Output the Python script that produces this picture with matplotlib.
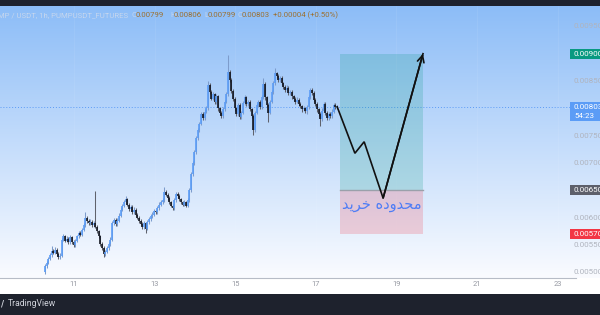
import matplotlib
matplotlib.use('Agg')
import matplotlib.pyplot as plt
import numpy as np
from matplotlib.patches import Rectangle
from matplotlib.transforms import blended_transform_factory as btf

# ---------------- data (prices in units of 0.00001 USDT) ----------------
opens = [500,512,518,525,532,540,536,542,533,528,
         531,560,566,558,562,555,564,556,550,558,
         566,572,569,578,586,600,594,590,593,586,
         590,584,575,566,552,545,533,538,544,552,
         560,590,596,588,595,604,615,622,628,634,
         624,616,620,610,615,606,600,594,589,583,
         590,580,592,598,603,606,612,610,618,624,
         628,632,648,642,636,628,622,618,632,644,
         640,634,628,624,628,622,632,650,680,700,
         720,746,760,772,790,782,794,800,842,830,
         818,826,812,822,800,792,786,798,812,826,
         866,852,832,818,800,790,806,784,792,810,
         820,808,812,798,786,760,792,806,812,802,
         820,845,820,806,792,812,830,846,864,860,
         852,856,846,840,834,838,828,830,822,818,
         812,816,808,804,798,800,796,802,820,834,
         828,816,808,798,790,780,796,808,792,782,
         790,786,794,806,802]
closes = [512,518,525,532,540,536,542,533,528,531,
          560,566,558,562,555,564,556,550,558,566,
          572,569,578,586,600,594,590,593,586,590,
          584,575,566,552,545,533,538,544,552,560,
          590,596,588,595,604,615,622,628,634,624,
          616,620,610,615,606,600,594,589,583,590,
          580,592,598,603,606,612,610,618,624,628,
          632,648,642,636,628,622,618,632,644,640,
          634,628,624,628,622,632,650,680,700,720,
          746,760,772,790,782,794,800,842,830,818,
          826,812,822,800,792,786,798,812,826,866,
          852,832,818,800,790,806,784,792,810,820,
          808,812,798,786,760,792,806,812,802,820,
          845,820,806,792,812,830,846,864,860,852,
          856,846,840,834,838,828,830,822,818,812,
          816,808,804,798,800,796,802,820,834,828,
          816,808,798,790,780,796,808,792,782,790,
          786,794,806,802,803]
highs = [515,521,529,535,548,543,546,545,537,535,
         563,570,569,566,565,568,567,560,562,569,
         576,575,582,590,610,604,597,597,596,594,
         649,587,578,569,555,548,542,548,556,564,
         594,600,599,599,608,619,626,632,640,637,
         627,624,623,619,618,609,603,597,592,594,
         593,596,602,607,610,616,615,622,628,632,
         636,656,651,645,639,631,625,636,648,647,
         643,637,631,632,631,636,654,684,704,724,
         750,764,776,794,793,798,805,850,846,833,
         830,829,826,825,803,795,802,816,830,898,
         870,855,835,821,803,810,809,796,814,824,
         823,816,815,801,789,796,810,816,815,824,
         856,848,823,809,816,834,850,874,867,863,
         860,859,849,843,842,841,834,833,825,821,
         820,819,811,807,804,803,806,824,838,837,
         831,819,811,801,793,800,812,811,795,794,
         793,798,810,809,806]
lows = [498,509,515,522,529,533,533,530,525,525,
        528,557,555,555,552,552,553,547,547,555,
        563,566,566,575,583,591,587,587,583,583,
        581,572,563,549,542,529,530,535,541,549,
        557,587,585,585,592,601,612,619,625,621,
        613,613,607,607,603,597,591,586,580,580,
        572,577,589,595,600,603,607,607,615,621,
        625,629,639,633,625,619,615,615,629,637,
        631,625,621,621,619,619,629,647,677,697,
        717,743,757,769,778,779,791,797,826,815,
        815,808,808,796,788,782,782,795,809,823,
        848,828,814,796,786,786,780,781,789,807,
        805,805,795,783,751,757,789,803,799,799,
        817,816,802,775,789,809,827,843,856,848,
        849,842,836,830,831,824,825,818,814,808,
        809,804,800,794,795,792,790,799,817,824,
        812,804,794,786,768,777,793,788,778,779,
        782,783,791,798,799]
price_unit = 1e-5
first_candle_day = 10.28          # first 1h candle (day of month)

date_ticks = [11, 13, 15, 17, 19, 21, 23]
price_ticks = [0.0095, 0.0085, 0.0075, 0.0070, 0.0060, 0.0055, 0.0050]
last_price = 0.00803
countdown = "54:23"

entry_price = 0.0065
target_price = 0.0090
stop_price = 0.0057
box_start, box_end = 17.60, 19.66

path_days = [17.53, 17.97, 18.20, 18.67, 19.66]
path_prices = [0.00803, 0.00718, 0.00739, 0.00636, 0.00900]

zone_label = "محدوده خرید"
# visual (shaped, left-to-right) form of zone_label using Arabic presentation forms
zone_label_visual = "\uFEAA\uFEF3\uFEAE\uFEA7 \uFEE9\uFEA9\uFEED\uFEAA\uFEA4\uFEE3"

legend_title = "PUMP / USDT, 1h, PUMPUSDT_FUTURES"
ohlc_letters = ["O", "H", "L", "C"]
ohlc_values = ["0.00799", "0.00806", "0.00799", "0.00803"]
change_text = "+0.00004 (+0.50%)"

# ---------------- figure ----------------
W, H = 600, 315
fig = plt.figure(figsize=(6, 3.15), dpi=100)
fig.patch.set_facecolor('white')

ax_top_px, ax_bot_px = 6, 278
ax_rect = [0, (H - ax_bot_px) / H, 1, (ax_bot_px - ax_top_px) / H]

# gradient background
bg = fig.add_axes(ax_rect, zorder=0)
grad = np.linspace(0, 1, 256)[:, None]
top_c = np.array([0.55, 0.74, 0.97])
bot_c = np.array([0.98, 0.985, 1.0])
img = top_c[None, None, :] * (1 - grad[:, :, None]) + bot_c[None, None, :] * grad[:, :, None]
bg.imshow(img, aspect='auto', extent=[0, 1, 0, 1], origin='upper')
bg.set_axis_off()

ax = fig.add_axes(ax_rect, zorder=1)
ax.patch.set_alpha(0)
for s in ax.spines.values():
    s.set_visible(False)
ax.set_xticks([]); ax.set_yticks([])

def px2day(px):
    return 11 + (px - 74) / 40.3

ax.set_xlim(px2day(0), px2day(600))
ax.set_ylim(0.009 - (ax_bot_px - 53.7) / 54.7 * 0.001,
            0.009 + (53.7 - ax_top_px) / 54.7 * 0.001)

# very faint vertical grid
for d in date_ticks:
    ax.axvline(d, color='white', lw=0.6, alpha=0.08, zorder=1)

# candles
o = np.array(opens) * price_unit
c = np.array(closes) * price_unit
hi = np.array(highs) * price_unit
lo = np.array(lows) * price_unit
x = first_candle_day + np.arange(len(o)) / 24.0
up = c >= o
up_col, dn_col = '#5b9cf6', '#131722'
ax.vlines(x, lo, hi, colors=np.where(up, '#7d9ccc', '#5f626c'), lw=0.75, zorder=3)
ax.vlines(x, np.minimum(o, c), np.maximum(o, c), colors=np.where(up, up_col, dn_col),
          lw=1.2, zorder=4)

# last price dotted line
ax.axhline(last_price, color='#5b9cf6', lw=0.7, ls=(0, (1, 2)), zorder=2)

# long position box
ax.add_patch(Rectangle((box_start, entry_price), box_end - box_start, target_price - entry_price,
                       facecolor=(8/255, 153/255, 129/255, 0.2), edgecolor='none', zorder=5))
ax.add_patch(Rectangle((box_start, stop_price), box_end - box_start, entry_price - stop_price,
                       facecolor=(242/255, 54/255, 69/255, 0.2), edgecolor='none', zorder=5))
ax.plot([box_start, box_end], [entry_price, entry_price], color='#9aa0aa', lw=1.0, zorder=6)

# projected path with arrow
ax.plot(path_days, path_prices, color='#111111', lw=1.2, zorder=7, solid_joinstyle='miter')
ax.annotate('', xy=(path_days[-1], path_prices[-1]), xytext=(path_days[-2], path_prices[-2]),
            arrowprops=dict(arrowstyle='->', color='#111111', lw=1.2, mutation_scale=12,
                            shrinkA=0, shrinkB=0), zorder=8)

ax.text((box_start + box_end) / 2, 0.00625, zone_label_visual, color='#4f7df5',
        fontsize=10.5, family=['DejaVu Sans'], ha='center', va='center', zorder=9)

# bottom axis line
ax.plot([0, 0.96], [0, 0], transform=ax.transAxes, color='#b7bcc6', lw=0.8, clip_on=False, zorder=2)

# price scale labels
tb = btf(ax.transAxes, ax.transData)
lab_x = 574 / W
FS = 5.8
for p in price_ticks:
    ax.text(lab_x, p, f"{p:.5f}", transform=tb, fontsize=FS, family='Roboto',
            color='#b0b4be', va='center', ha='left', clip_on=False, zorder=10)

def tag(price, text, color, h_px=10, bottom_extra=0):
    hd = h_px / 54.7 * 0.001
    ax.add_patch(Rectangle((570 / W, price - hd / 2 - bottom_extra), 1 - 570 / W,
                           hd + bottom_extra,
                           transform=tb, facecolor=color, edgecolor='none', zorder=11, clip_on=False))
    ax.text(lab_x, price, text, transform=tb, fontsize=FS, family='Roboto', color='white',
            va='center', ha='left', zorder=12, clip_on=False)

tag(target_price, f"{target_price:.5f}", '#089981')
tag(entry_price, f"{entry_price:.5f}", '#5d606b')
tag(stop_price, f"{stop_price:.5f}", '#f23645')
tag(last_price, f"{last_price:.5f}", '#5b9cf6', h_px=10, bottom_extra=9 / 54.7 * 0.001)
ax.text(lab_x, last_price - 9 / 54.7 * 0.001, countdown, transform=tb, fontsize=FS,
        family='Roboto', color='white', va='center', ha='left', zorder=12, clip_on=False)

# date labels
tdx = btf(ax.transData, ax.transAxes)
for d in date_ticks:
    ax.text(d, -7 / (ax_bot_px - ax_top_px), str(d), transform=tdx, fontsize=5.4,
            family='Roboto', color='#9598a1', ha='center', va='center', clip_on=False)

# top bar and footer
fig.patches.append(Rectangle((0, 1 - ax_top_px / H), 1, ax_top_px / H, transform=fig.transFigure,
                             facecolor='#1e222d', edgecolor='none', zorder=20))
fig.patches.append(Rectangle((0, 0), 1, 21 / H, transform=fig.transFigure,
                             facecolor='#1e222d', edgecolor='none', zorder=20))
fig.text(8 / W, 1 - 304 / H, "TradingView", fontsize=6.2, family='Roboto', color='#d1d4dc',
         va='center', ha='left', zorder=21)
fig.text(1 / W, 1 - 304 / H, "/", fontsize=6, family='DejaVu Sans', color='#d1d4dc',
         va='center', ha='left', zorder=21, fontweight='bold')

# legend line at top
ly = 1 - 15 / H
LFS = 5.6
fig.text(128 / W, ly, legend_title, fontsize=LFS, family='Roboto', color='#c5d6ee',
         ha='right', va='center', zorder=21)
letter_x = [132, 170, 204, 238]
value_x = [136, 174, 208, 242]
for lx, vx, L, V in zip(letter_x, value_x, ohlc_letters, ohlc_values):
    fig.text(lx / W, ly, L, fontsize=LFS, family='Roboto', color='#c5d6ee', ha='left', va='center')
    fig.text(vx / W, ly, V, fontsize=LFS, family='Roboto', color='#9c7030', ha='left', va='center')
fig.text(273 / W, ly, change_text, fontsize=LFS, family='Roboto', color='#9c7030', ha='left', va='center')

fig.savefig('out.png', dpi=100)
